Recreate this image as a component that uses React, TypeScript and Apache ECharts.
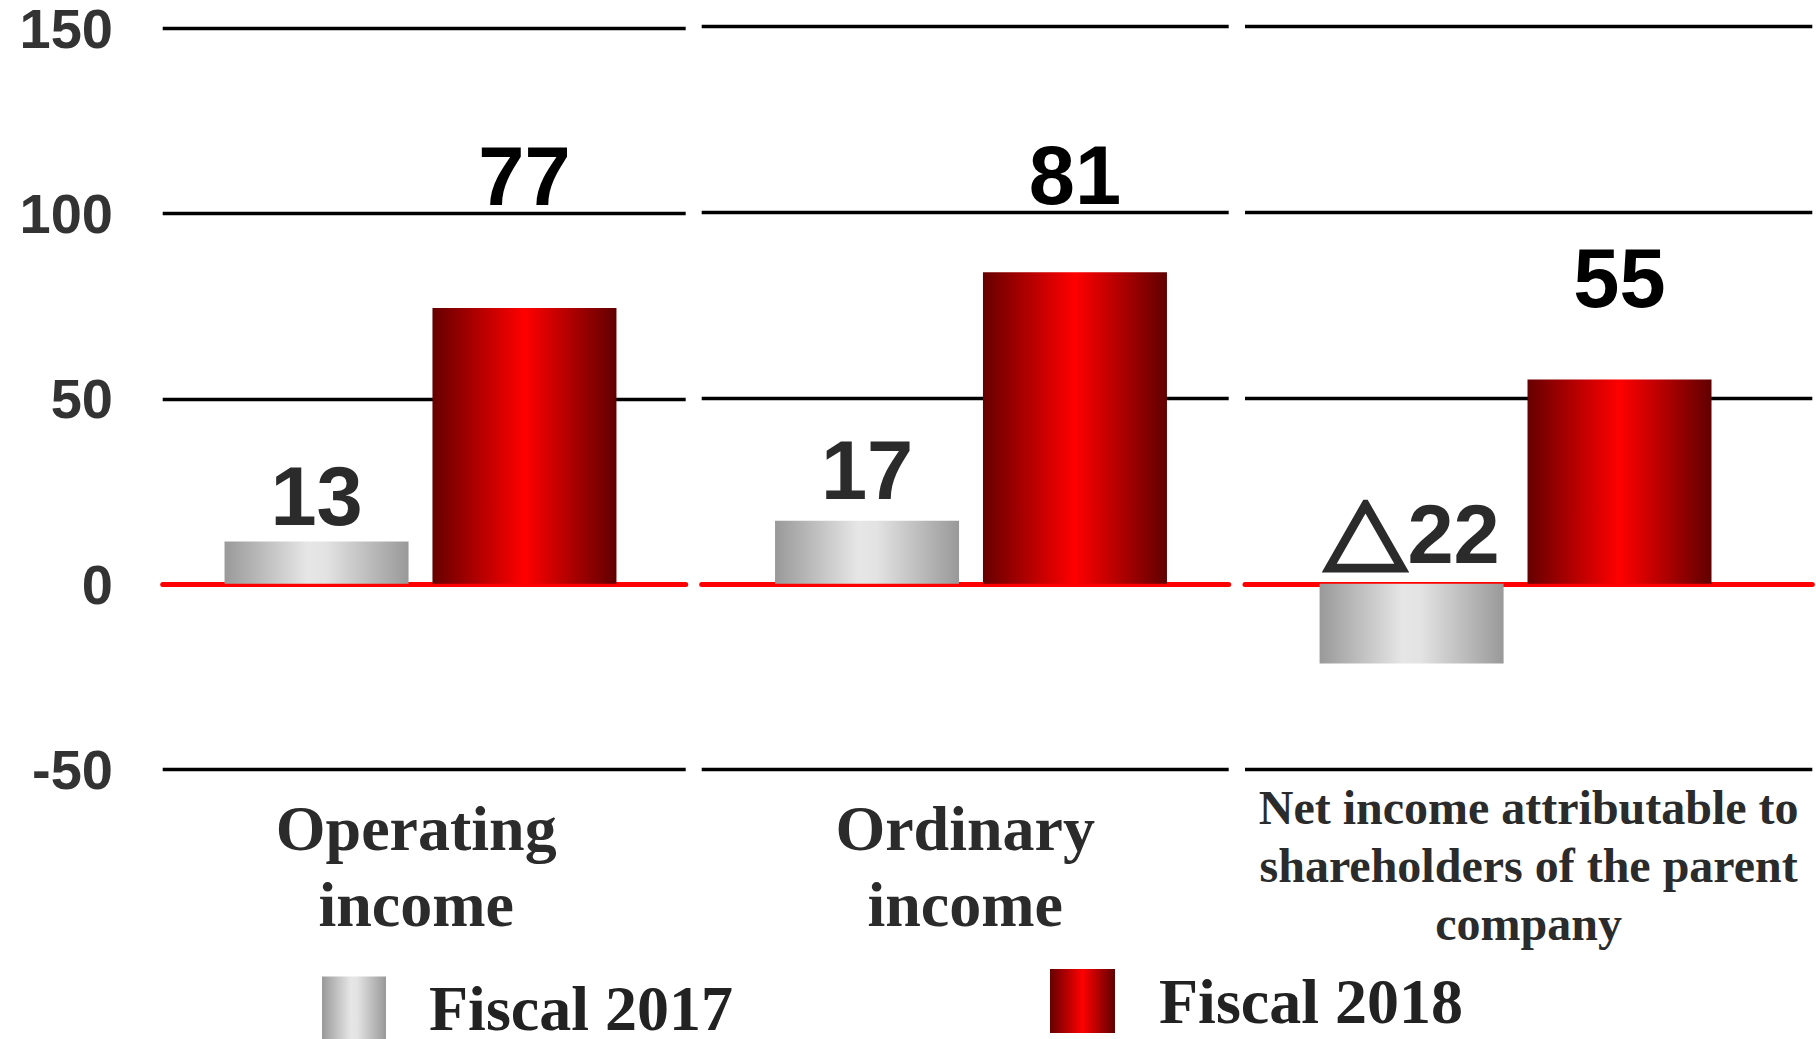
import React, { useEffect, useRef } from "react";
import * as echarts from "echarts";

// ---- data ----
const categories = [
  "Operating\nincome",
  "Ordinary\nincome",
  "Net income attributable to\nshareholders of the parent\ncompany",
];
const fiscal2017 = [11.4, 17.0, -21.4];
const fiscal2018 = [74.2, 83.8, 55.0];
const labels2017 = ["13", "17", "△22"];
const labels2018 = ["77", "81", "55"];
const seriesNames = ["Fiscal 2017", "Fiscal 2018"];
const yMin = -50;
const yMax = 150;
const yInterval = 50;

// ---- layout / style ----
const gridEdges = [
  [162.7, 685.7],
  [701.7, 1228.7],
  [1245, 1812.3],
];
const barShift = [-3.7, 5.8, -13.1];
const gridTop = 26.3;
const gridHeight = 743.4;
const labelLift2017 = [3, 9, 7];
const labelLift2018 = [90, 55, 59];
const catFont = [
  { size: 64, lh: 76, margin: 21, pad: [0, 16, 0, 0] },
  { size: 64, lh: 76, margin: 21, pad: [0, 0, 0, 0] },
  { size: 48, lh: 58, margin: 9, pad: [0, 0, 0, 0] },
];
const numFont = "Arial, 'Liberation Sans', Helvetica, sans-serif";
const cjkFont = "'Noto Sans CJK JP', 'Noto Sans CJK SC', sans-serif";
const serifFont = "'Times New Roman', 'Liberation Serif', serif";

const grayGrad = new echarts.graphic.LinearGradient(0, 0, 1, 0, [
  { offset: 0, color: "#999999" },
  { offset: 0.45, color: "#e6e6e6" },
  { offset: 0.55, color: "#e3e3e3" },
  { offset: 1, color: "#999999" },
]);
const redGrad = new echarts.graphic.LinearGradient(0, 0, 1, 0, [
  { offset: 0, color: "#660000" },
  { offset: 0.5, color: "#ff0000" },
  { offset: 1, color: "#600000" },
]);

const toRich = (s: string) => s.replace("△", "{t|△}");

export default function App() {
  const ref = useRef<HTMLDivElement>(null);
  useEffect(() => {
    if (!ref.current) return;
    const chart = echarts.init(ref.current, undefined, { renderer: "svg" });
    const n = categories.length;

    // grids 0..n-1: axes, gridlines, category labels; grids n..2n-1: bars
    const grid: any[] = [];
    gridEdges.forEach(([l, r]) =>
      grid.push({ left: l, width: r - l, top: gridTop, height: gridHeight })
    );
    gridEdges.forEach(([l, r], i) =>
      grid.push({ left: l + barShift[i], width: r - l, top: gridTop, height: gridHeight })
    );

    const xAxis: any[] = [];
    const yAxis: any[] = [];
    categories.forEach((c, i) => {
      xAxis.push({
        type: "category",
        gridIndex: i,
        data: [c],
        axisTick: { show: false },
        axisLine: {
          show: true,
          onZero: true,
          lineStyle: { color: "#ff0000", width: 5 },
        },
        axisLabel: {
          interval: 0,
          margin: catFont[i].margin,
          padding: catFont[i].pad,
          fontFamily: serifFont,
          fontWeight: "bold",
          fontSize: catFont[i].size,
          lineHeight: catFont[i].lh,
          color: "#2b2b2b",
        },
      });
      yAxis.push({
        type: "value",
        gridIndex: i,
        min: yMin,
        max: yMax,
        interval: yInterval,
        axisLine: { show: false },
        axisTick: { show: false },
        axisLabel: {
          show: i === 0,
          margin: 49.7,
          fontFamily: numFont,
          fontWeight: "bold",
          fontSize: 56,
          lineHeight: 50,
          color: "#333333",
        },
        splitLine: {
          show: true,
          lineStyle: {
            color: ["#000000", "#ff0000", "#000000", "#000000", "#000000"],
            width: 3.3,
          },
        },
      });
    });
    categories.forEach((c, i) => {
      xAxis.push({ type: "category", gridIndex: n + i, data: [c], show: false });
      yAxis.push({
        type: "value",
        gridIndex: n + i,
        min: yMin,
        max: yMax,
        interval: yInterval,
        show: false,
        splitLine: { show: false },
      });
    });

    const labelBase = {
      show: true,
      position: "top",
      fontFamily: numFont,
      fontWeight: "bold",
      fontSize: 83,
      rich: {
        t: {
          fontFamily: cjkFont,
          fontWeight: "bold",
          fontSize: 84,
          color: "#2b2b2b",
          textBorderColor: "#2b2b2b",
          textBorderWidth: 5,
        },
      },
    };

    const series: any[] = [];
    categories.forEach((_, i) => {
      series.push({
        type: "bar",
        name: seriesNames[0],
        xAxisIndex: n + i,
        yAxisIndex: n + i,
        barWidth: 184,
        barGap: "13%",
        itemStyle: { color: grayGrad },
        data: [{ value: fiscal2017[i], label: { distance: labelLift2017[i] } }],
        label: { ...labelBase, formatter: toRich(labels2017[i]), color: "#2b2b2b" },
      });
      series.push({
        type: "bar",
        name: seriesNames[1],
        xAxisIndex: n + i,
        yAxisIndex: n + i,
        barWidth: 184,
        barGap: "13%",
        itemStyle: { color: redGrad },
        data: [{ value: fiscal2018[i], label: { distance: labelLift2018[i] } }],
        label: { ...labelBase, formatter: toRich(labels2018[i]), color: "#000000" },
      });
    });

    const legendText = {
      fontFamily: serifFont,
      fontWeight: "bold",
      fontSize: 64,
      lineHeight: 40,
      color: "#222222",
    };

    chart.setOption({
      animation: false,
      backgroundColor: "#ffffff",
      grid,
      xAxis,
      yAxis,
      legend: [
        {
          data: [seriesNames[0]],
          left: 322,
          top: 976,
          padding: 0,
          itemWidth: 64,
          itemHeight: 63,
          icon: "rect",
          selectedMode: false,
          textStyle: { ...legendText, padding: [0, 0, 16, 38] },
        },
        {
          data: [seriesNames[1]],
          left: 1050,
          top: 969,
          padding: 0,
          itemWidth: 65,
          itemHeight: 64,
          icon: "rect",
          selectedMode: false,
          textStyle: { ...legendText, padding: [4, 0, 0, 39] },
        },
      ],
      series,
    });
    return () => chart.dispose();
  }, []);
  return (
    <div
      ref={ref}
      style={{ position: "absolute", left: 0, top: 0, width: 1816, height: 1039 }}
    />
  );
}
